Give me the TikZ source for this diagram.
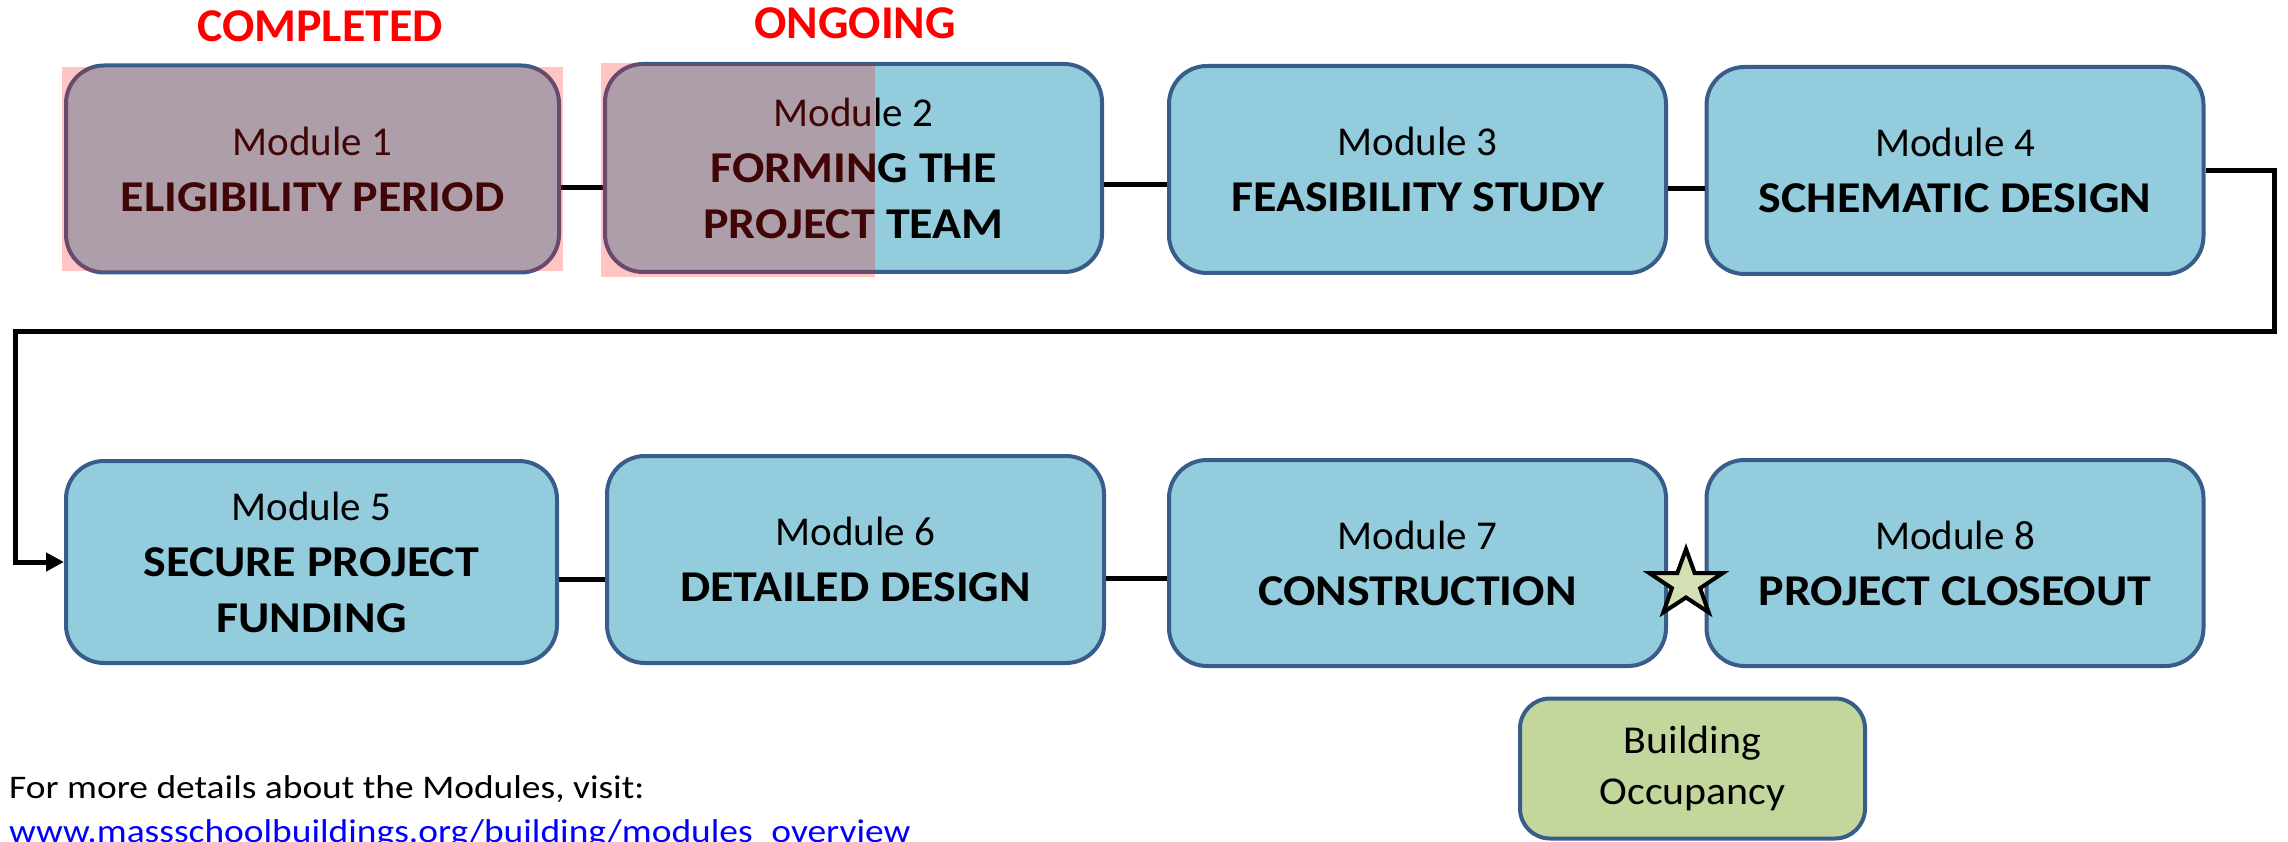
\documentclass[tikz,border=0pt]{standalone}
\usepackage{fontspec}
\setmainfont{Carlito}
\newfontfamily\ttlfamily[FakeStretch=1.09]{Carlito}
\newfontfamily\notefamily[FakeStretch=1.135]{Carlito}
\newfontfamily\occfamily[FakeStretch=1.06]{Carlito}
\newfontfamily\statfamily[FakeStretch=1.02]{Carlito}
\usetikzlibrary{shapes.geometric,arrows.meta}
\definecolor{boxblue}{HTML}{93CDDD}
\definecolor{boxedge}{HTML}{385D8A}
\definecolor{occgreen}{HTML}{C3D69B}
\definecolor{stargreen}{HTML}{D3E0B4}
\definecolor{overlayred}{RGB}{255,20,20}
\definecolor{statusred}{HTML}{FF0000}
\definecolor{linkblue}{HTML}{0000FF}
\newcommand{\modfont}{\fontsize{41}{56}\selectfont}
\newcommand{\ttlfont}{\ttlfamily\bfseries\fontsize{44}{56}\selectfont}
\begin{document}
\begin{tikzpicture}[x=1pt,y=-1pt,
  modbox/.style={draw=boxedge, line width=4pt, fill=boxblue, rounded corners=38pt,
    align=center, inner sep=0pt, minimum width=#1, minimum height=207pt, font=\modfont},
  modbox/.default=497pt,
  conn/.style={line width=5pt, draw=black},
  status/.style={anchor=base, text=statusred, font=\statfamily\bfseries\fontsize{47}{50}\selectfont},
  overlay/.style={fill=overlayred, fill opacity=0.25},
  note/.style={anchor=base west, inner sep=0pt, font=\notefamily\fontsize{33}{40}\selectfont}
]
\useasboundingbox (0,0) rectangle (2288,842);
% row 1
\node[modbox=493pt] (b1) at (312.5,169) {Module 1\\{\ttlfont ELIGIBILITY PERIOD}};
\node[modbox, minimum height=208pt] (b2) at (853.5,168) {Module 2\\{\ttlfont FORMING THE}\\{\ttlfont PROJECT TEAM}};
\node[modbox, minimum height=207pt] (b3) at (1417.5,169.5) {Module 3\\{\ttlfont FEASIBILITY STUDY}};
\node[modbox, minimum height=207pt] (b4) at (1955,170.5) {Module 4\\{\ttlfont SCHEMATIC DESIGN}};
% row 2
\node[modbox=491pt, minimum height=202pt] (b5) at (311.5,562) {Module 5\\{\ttlfont SECURE PROJECT}\\{\ttlfont FUNDING}};
\node[modbox, minimum height=207pt] (b6) at (855.5,559.5) {Module 6\\{\ttlfont DETAILED DESIGN}};
\node[modbox, minimum height=206pt] (b7) at (1417.5,563) {Module 7\\{\ttlfont CONSTRUCTION}};
\node[modbox, minimum height=206pt] (b8) at (1955,563) {Module 8\\{\ttlfont PROJECT CLOSEOUT}};
% building occupancy
\node[draw=boxedge, line width=4pt, fill=occgreen, rounded corners=30pt, align=center,
  inner sep=0pt, minimum width=345pt, minimum height=140pt,
  font=\occfamily\fontsize{39.5}{51}\selectfont] (occ) at (1692.5,768.5) {Building\\Occupancy};
% connectors
\draw[conn] ([yshift=-19pt]b1.east) -- ([yshift=-19pt]b1.east -| b2.west);
\draw[conn] ([yshift=-17pt]b2.east) -- ([yshift=-17pt]b2.east -| b3.west);
\draw[conn] ([yshift=-19.5pt]b3.east) -- ([yshift=-19.5pt]b3.east -| b4.west);
\coordinate (r1) at (2274,331);
\coordinate (l1) at (15,331);
\draw[conn, line join=miter, -{Triangle[length=18pt,width=18pt]}] (b4.east) -| (r1) -- (l1) |- (b5.west);
\draw[conn] ([yshift=-17pt]b5.east) -- ([yshift=-17pt]b5.east -| b6.west);
\draw[conn] ([yshift=-18.5pt]b6.east) -- ([yshift=-18.5pt]b6.east -| b7.west);
% star
\node[star, star points=5, star point ratio=2.6, minimum size=70pt, inner sep=0pt,
  draw=black, line width=4pt, fill=stargreen, xscale=1.1, transform shape] (st) at (1686,584) {};
% status labels
\node[status] (done) at (320,42) {COMPLETED};
\node[status] (going) at (855,39) {ONGOING};
% overlays
\fill[overlay] (62,67) rectangle (563,271);
\fill[overlay] (601,63) rectangle (875,277);
% footer
\node[note] (info) at (9,798) {For more details about the Modules, visit:};
\node[note, text=linkblue] (link) at (9,842) {www.massschoolbuildings.org/building/modules\_overview};
\end{tikzpicture}
\end{document}
